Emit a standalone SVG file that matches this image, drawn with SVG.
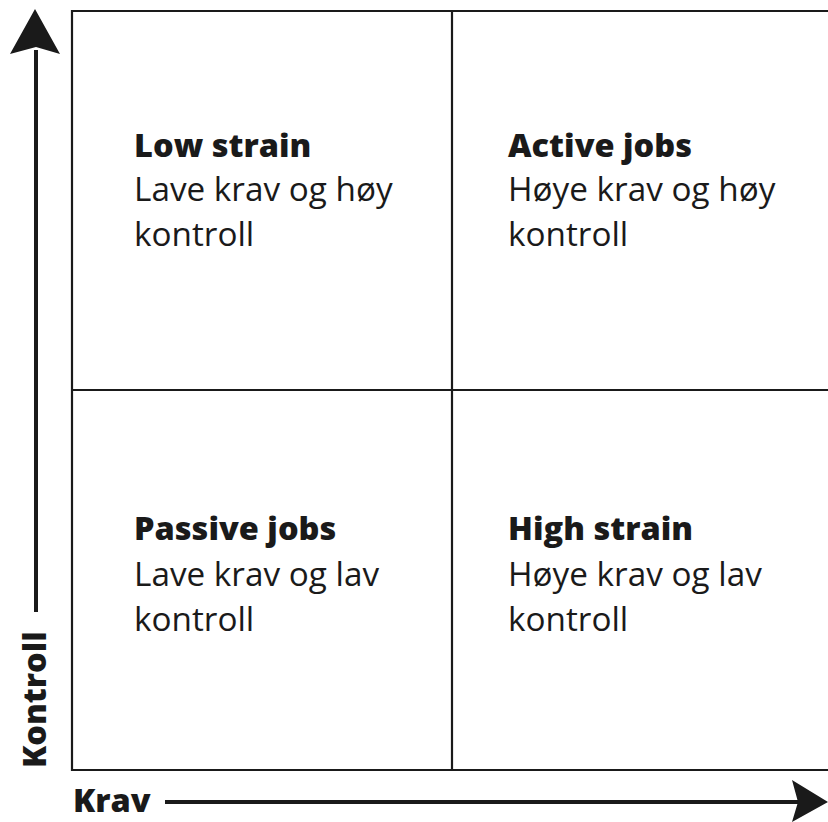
<svg xmlns="http://www.w3.org/2000/svg" width="828" height="822" viewBox="0 0 828 822">
  <style>
    .grid { fill: none; stroke: #1a1a1a; stroke-width: 2.2; }
    .axis { fill: none; stroke: #1a1a1a; stroke-width: 4; }
    .head { fill: #1a1a1a; }
    .title { font-family: "Open Sans", "Liberation Sans", sans-serif; font-weight: 800; font-size: 32.5px; fill: #1a1a1a; }
    .body { font-family: "Open Sans", "Liberation Sans", sans-serif; font-weight: 400; font-size: 33.3px; fill: #1a1a1a; }
    .axislabel { font-family: "Open Sans", "Liberation Sans", sans-serif; font-weight: 800; font-size: 32.5px; fill: #1a1a1a; }
  </style>

  <!-- quadrant grid -->
  <g id="grid">
    <path class="grid" d="M 830 11 H 72 V 770 H 830"/>
    <line class="grid" x1="452" y1="11" x2="452" y2="770"/>
    <line class="grid" x1="72" y1="390" x2="830" y2="390"/>
  </g>

  <!-- axes -->
  <g id="connectors">
    <line class="axis" x1="36" y1="50" x2="36" y2="612"/>
    <path class="head" d="M 35 9 L 60 54 L 36 47 L 10 54 Z"/>
    <line class="axis" x1="165" y1="802" x2="800" y2="802"/>
    <path class="head" d="M 828 802 L 792 780 L 798 802 L 792 822 Z"/>
  </g>

  <g id="axis-y">
    <text class="axislabel" transform="translate(46 768) rotate(-90)">Kontroll</text>
  </g>
  <g id="axis-x">
    <text class="axislabel" x="73" y="812">Krav</text>
  </g>

  <g id="low-strain">
    <text class="title" x="134" y="157">Low strain</text>
    <text class="body" x="134" y="201">Lave krav og høy</text>
    <text class="body" x="134" y="246">kontroll</text>
  </g>
  <g id="active-jobs">
    <text class="title" x="508" y="157">Active jobs</text>
    <text class="body" x="508" y="201">Høye krav og høy</text>
    <text class="body" x="508" y="246">kontroll</text>
  </g>
  <g id="passive-jobs">
    <text class="title" x="134" y="540">Passive jobs</text>
    <text class="body" x="134" y="586">Lave krav og lav</text>
    <text class="body" x="134" y="631">kontroll</text>
  </g>
  <g id="high-strain">
    <text class="title" x="508" y="540">High strain</text>
    <text class="body" x="508" y="586">Høye krav og lav</text>
    <text class="body" x="508" y="631">kontroll</text>
  </g>
</svg>
